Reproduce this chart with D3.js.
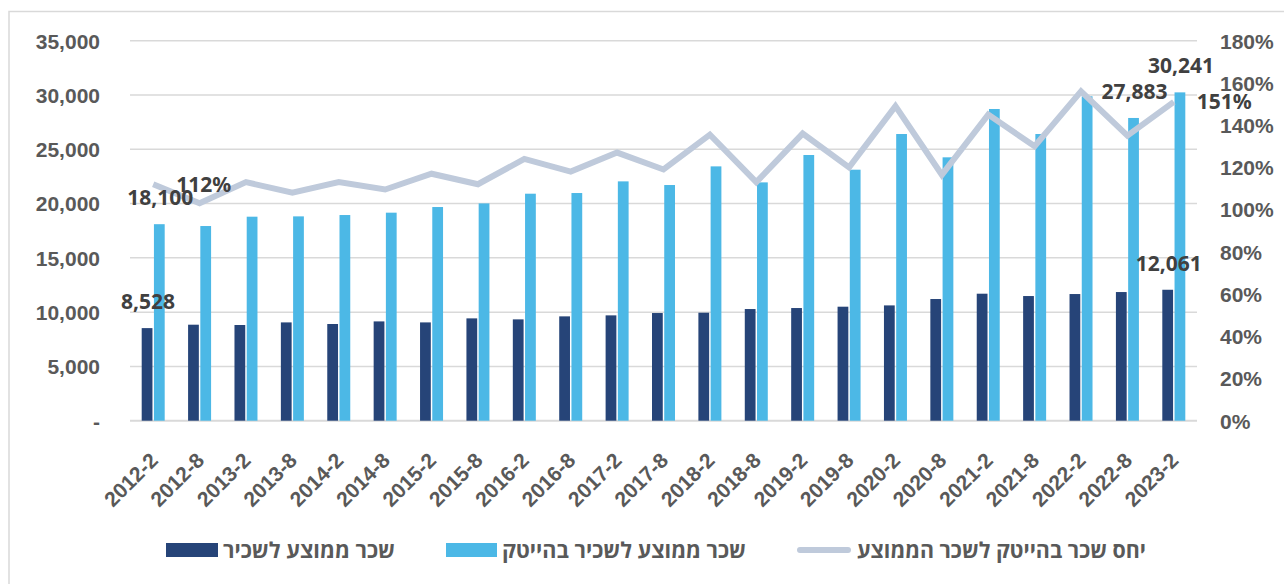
<!DOCTYPE html>
<html lang="he">
<head>
<meta charset="UTF-8">
<title>שכר ממוצע לשכיר</title>
<style type="text/css">
  body{
    margin: 0;
    background: #fff;
    font-family: "Noto Sans", "Open Sans", sans-serif;
  }
  .axis text{
    font-size: 21px;
    font-weight: bold;
    fill: #595959;
  }
  .axis path,
  .axis line{
    display: none;
  }
  .grid line{
    stroke: #d9d9d9;
    stroke-width: 1.5px;
  }
  .label{
    font-size: 21px;
    font-weight: bold;
    fill: #404040;
  }
  .legend text{
    font-family: "Open Sans", "Liberation Sans", "DejaVu Sans", sans-serif;
    font-size: 22px;
    font-weight: bold;
    fill: #595959;
  }
</style>
<script src="https://cdn.jsdelivr.net/npm/d3@7"></script>
</head>
<body>
<script type="text/javascript">
  // half-year periods
  var categories = ['2012-2','2012-8','2013-2','2013-8','2014-2','2014-8','2015-2','2015-8',
    '2016-2','2016-8','2017-2','2017-8','2018-2','2018-8','2019-2','2019-8','2020-2','2020-8',
    '2021-2','2021-8','2022-2','2022-8','2023-2'];

  // average wage per employee
  var avgWage = [8528, 8842, 8814, 9054, 8906, 9146, 9054, 9425, 9333, 9610, 9702, 9917,
    9947, 10285, 10377, 10500, 10620, 11207, 11697, 11482, 11666, 11850, 12061];

  // average wage per hi-tech employee
  var hitechWage = [18100, 17930, 18790, 18820, 18943, 19160, 19680, 20015, 20908, 20970, 22043, 21707,
    23425, 21950, 24472, 23118, 26405, 24258, 28710, 26405, 29880, 27883, 30241];

  // ratio hi-tech wage to average wage (%)
  var ratio = [112, 103, 113, 108, 113, 109.5, 117, 112, 124, 118, 127, 119,
    135.5, 113, 136, 120, 149, 116.5, 145, 130, 156, 135, 151];

  var leftTicks = [0, 5000, 10000, 15000, 20000, 25000, 30000, 35000];
  var rightTicks = [0, 20, 40, 60, 80, 100, 120, 140, 160, 180];

  var seriesNames = ['שכר ממוצע לשכיר', 'שכר ממוצע לשכיר בהייטק', 'יחס שכר בהייטק לשכר הממוצע'];
  var colors = ['#264478', '#4cb8e6', '#bfcadb'];

  var width = 1284, height = 584;
  var plot = {left: 130, right: 1197, top: 40.7, bottom: 420.7};

  var svg = d3.select('body')
    .append('svg')
    .attr('width', width)
    .attr('height', height);

  // outer frame
  svg.append('rect')
    .attr('x', 9)
    .attr('y', 11.5)
    .attr('width', width)
    .attr('height', height)
    .attr('fill', 'none')
    .attr('stroke', '#d9d9d9')
    .attr('stroke-width', 1.5);

  var xScale = d3.scaleBand()
    .domain(categories)
    .range([plot.left, plot.right])
    .padding(0);

  var xInner = d3.scaleBand()
    .domain(['avg', 'hitech'])
    .range([-11.5, 11.5])
    .paddingInner(0.12);

  var yScale = d3.scaleLinear()
    .domain([0, 35000])
    .range([plot.bottom, plot.top]);

  var yRight = d3.scaleLinear()
    .domain([0, 180])
    .range([plot.bottom, plot.top]);

  // grid
  svg.append('g')
    .attr('class', 'grid')
    .selectAll('line')
    .data(leftTicks)
    .enter().append('line')
    .attr('x1', plot.left)
    .attr('x2', plot.right)
    .attr('y1', function(d){ return yScale(d); })
    .attr('y2', function(d){ return yScale(d); })
    .style('stroke-width', function(d){ return d === 0 ? 2 : 1.5; });

  var fmt = d3.format(',');

  svg.append('g')
    .attr('class', 'y axis')
    .attr('transform', 'translate(' + plot.left + ',0)')
    .call(d3.axisLeft(yScale).tickValues(leftTicks).tickSize(0).tickPadding(30)
      .tickFormat(function(d){ return d === 0 ? '-' : fmt(d); }))
    .selectAll('text')
    .attr('dy', '0.35em');

  svg.append('g')
    .attr('class', 'y2 axis')
    .attr('transform', 'translate(' + plot.right + ',0)')
    .call(d3.axisRight(yRight).tickValues(rightTicks).tickSize(0).tickPadding(23)
      .tickFormat(function(d){ return d + '%'; }))
    .selectAll('text')
    .attr('dy', '0.35em');

  var xAxis = svg.append('g')
    .attr('class', 'x axis')
    .attr('transform', 'translate(0,' + plot.bottom + ')')
    .call(d3.axisBottom(xScale).tickSize(0).tickPadding(0));

  xAxis.selectAll('text')
    .attr('text-anchor', 'end')
    .attr('dy', 0)
    .attr('y', 0)
    .attr('transform', 'translate(6,41) rotate(-45)');

  function cx(i){ return xScale(categories[i]) + xScale.bandwidth() / 2; }

  var bars = svg.append('g').attr('class', 'bars');

  bars.selectAll('.avg')
    .data(avgWage)
    .enter().append('rect')
    .attr('class', 'avg')
    .attr('x', function(d, i){ return cx(i) + xInner('avg'); })
    .attr('width', xInner.bandwidth())
    .attr('y', function(d){ return yScale(d); })
    .attr('height', function(d){ return yScale(0) - yScale(d); })
    .attr('fill', colors[0]);

  bars.selectAll('.hitech')
    .data(hitechWage)
    .enter().append('rect')
    .attr('class', 'hitech')
    .attr('x', function(d, i){ return cx(i) + xInner('hitech'); })
    .attr('width', xInner.bandwidth())
    .attr('y', function(d){ return yScale(d); })
    .attr('height', function(d){ return yScale(0) - yScale(d); })
    .attr('fill', colors[1]);

  var line = d3.line()
    .x(function(d, i){ return cx(i); })
    .y(function(d){ return yRight(d); });

  svg.append('path')
    .datum(ratio)
    .attr('d', line)
    .attr('fill', 'none')
    .attr('stroke', colors[2])
    .attr('stroke-width', 6);

  // data labels (first and last points only)
  var last = categories.length - 1;
  var labels = svg.append('g');

  [[0, avgWage], [last, avgWage], [0, hitechWage], [last - 1, hitechWage], [last, hitechWage]]
    .forEach(function(p){
      var i = p[0], arr = p[1];
      var off = arr === avgWage ? xInner('avg') : xInner('hitech');
      labels.append('text')
        .attr('class', 'label')
        .attr('x', cx(i) + off + xInner.bandwidth() / 2 + 1)
        .attr('y', yScale(arr[i]) - 19)
        .attr('text-anchor', 'middle')
        .text(fmt(arr[i]));
    });

  [0, last].forEach(function(i){
    labels.append('text')
      .attr('class', 'label')
      .attr('x', cx(i) + 23)
      .attr('y', yRight(ratio[i]))
      .attr('dy', '0.35em')
      .text(Math.round(ratio[i]) + '%');
  });

  // legend
  var legendY = 550;
  var legendItems = [
    {x: 166, w: 52, tx: 223, tw: 172},
    {x: 446, w: 51, tx: 502, tw: 244},
    {x: 797, w: 54, tx: 857, tw: 289}
  ];

  var legend = svg.append('g').attr('class', 'legend');

  legendItems.forEach(function(d, i){
    if (i < 2) {
      legend.append('rect')
        .attr('x', d.x)
        .attr('y', legendY - 7)
        .attr('width', d.w)
        .attr('height', 14)
        .attr('fill', colors[i]);
    } else {
      legend.append('line')
        .attr('x1', d.x + 3)
        .attr('x2', d.x + d.w - 3)
        .attr('y1', legendY)
        .attr('y2', legendY)
        .attr('stroke', colors[i])
        .attr('stroke-width', 6)
        .attr('stroke-linecap', 'round');
    }
    legend.append('text')
      .attr('x', d.tx)
      .attr('y', legendY)
      .attr('dy', '0.35em')
      .attr('textLength', d.tw)
      .attr('lengthAdjust', 'spacingAndGlyphs')
      .text(seriesNames[i]);
  });
</script>
</body>
</html>
